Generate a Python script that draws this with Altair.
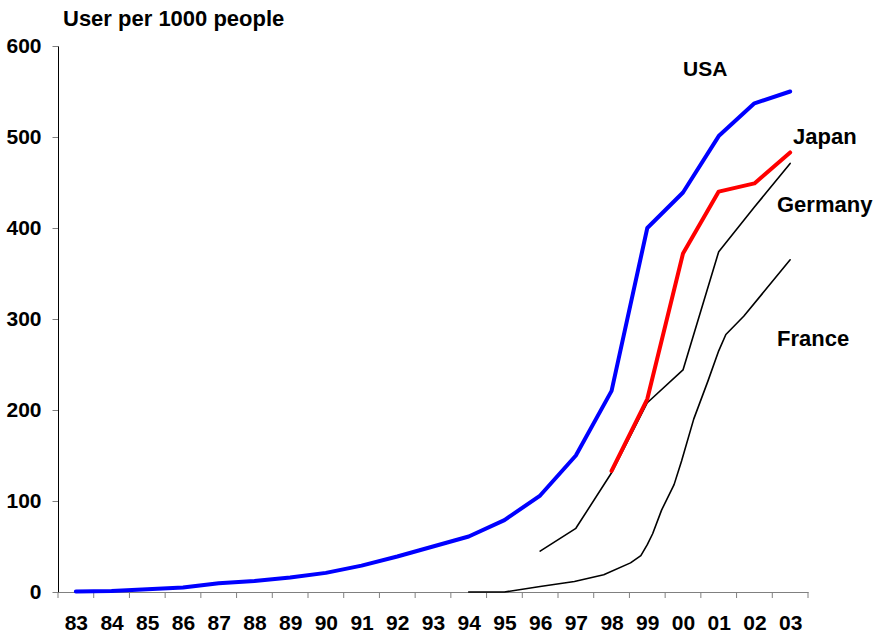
import altair as alt
import pandas as pd

# ---- data ----
usa_years = list(range(1983, 2004))
usa_values = [0.5, 1, 3, 5, 9.5, 12, 16, 21, 29, 39, 50, 61, 79, 106, 150, 221, 400, 439, 501, 537, 550]

japan_years = [1998, 1999, 2000, 2001, 2002, 2003]
japan_values = [133, 212, 372, 440, 449, 483]

germany_years = [1996, 1997, 1998, 1999, 2000, 2001, 2002, 2003]
germany_values = [45, 70, 131, 208, 244, 374, 423, 471]

france_years = [1994, 1995, 1996, 1996.96, 1997.78, 1998.53, 1998.82, 1999.0, 1999.15,
                1999.4, 1999.75, 1999.96, 2000.3, 2000.7, 2001.0, 2001.2, 2001.7, 2003.0]
france_values = [0, 0, 6, 11.5, 19, 32, 40, 52, 64, 90, 118, 144, 190, 232, 265, 283, 303, 365]

category_years = list(range(1983, 2004))
y_ticks = [0, 100, 200, 300, 400, 500, 600]

FONT = "Liberation Sans, Arial, sans-serif"
W, H = 750, 546

x_scale = alt.Scale(domain=[1982.5, 2003.5], nice=False, zero=False)
y_scale = alt.Scale(domain=[0, 600], nice=False)

x_axis = alt.Axis(values=category_years, labelExpr="slice(toString(datum.value), 2)",
                  ticks=False, grid=False, title=None, domainColor="#808080", domainWidth=1,
                  labelFont=FONT, labelFontSize=21, labelFontWeight="bold", labelColor="black",
                  labelPadding=20, labelFlush=False, labelOverlap=False)
y_axis = alt.Axis(values=y_ticks, grid=False, title=None, domainColor="black", domainWidth=1,
                  tickColor="#808080", tickSize=6, labelFont=FONT, labelFontSize=21,
                  labelFontWeight="bold", labelColor="black", labelPadding=11)

X = alt.X("year:Q", scale=x_scale, axis=x_axis)
Y = alt.Y("value:Q", scale=y_scale, axis=y_axis)


def series(years, values, color, width):
    df = pd.DataFrame({"year": years, "value": values})
    return alt.Chart(df).mark_line(color=color, strokeWidth=width, strokeJoin="round",
                                   strokeCap="round").encode(x=X, y=Y)


# category boundary ticks on the x axis
bounds = pd.DataFrame({"year": [y - 0.5 for y in category_years] + [category_years[-1] + 0.5]})
ticks = alt.Chart(bounds).mark_rule(color="#808080", strokeWidth=1).encode(
    x=X, y=alt.value(H), y2=alt.value(H + 6))


def label(text, x, y, size=22):
    return alt.Chart(alt.Data(values=[{}])).mark_text(
        text=text, font=FONT, fontSize=size, fontWeight="bold", color="black",
        align="left", baseline="alphabetic").encode(x=alt.value(x), y=alt.value(y))


chart = alt.layer(
    ticks,
    series(france_years, france_values, "black", 1.6),
    series(germany_years, germany_values, "black", 1.6),
    series(japan_years, japan_values, "#FF0000", 4),
    series(usa_years, usa_values, "#0000FF", 4),
    label("User per 1000 people", 5, -20, 22),
    label("USA", 625, 30, 21),
    label("Japan", 735, 98),
    label("Germany", 719, 166),
    label("France", 719, 300),
).properties(
    width=W, height=H,
    autosize=alt.AutoSizeParams(type="none"),
    padding={"left": 58, "top": 46, "right": 75, "bottom": 48},
    background="white",
).configure_view(stroke=None)

chart.save("out.html", embed_options={"renderer": "svg", "actions": False})
